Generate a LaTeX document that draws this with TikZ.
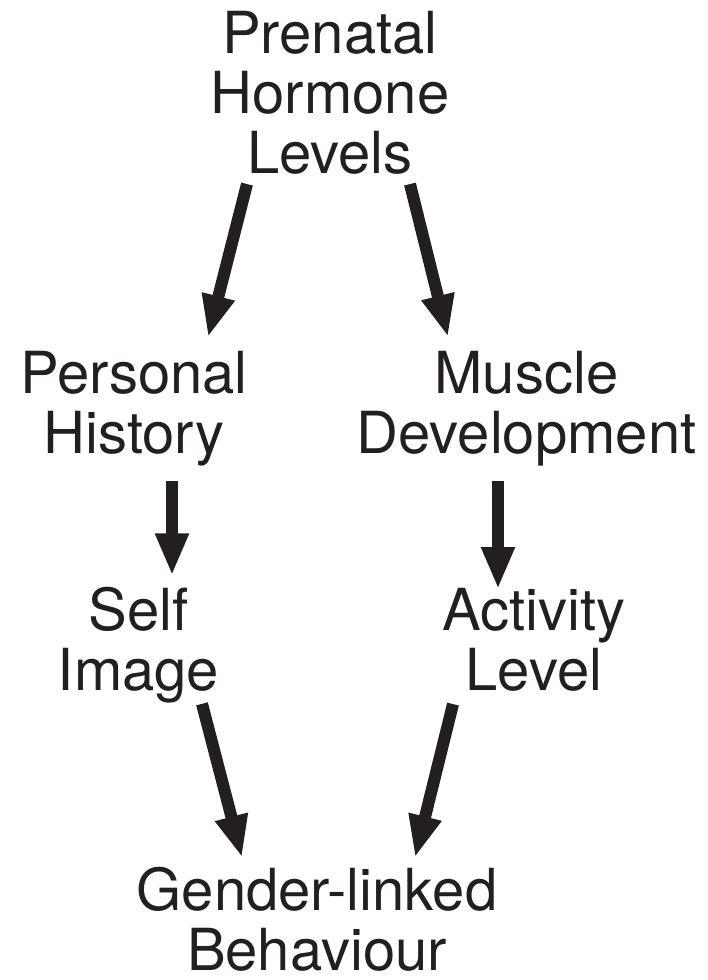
\documentclass[tikz,border=0pt]{standalone}
\usepackage{fontspec}
\setmainfont{TeX Gyre Heros}
\usetikzlibrary{arrows.meta}
\definecolor{ink}{RGB}{35,31,32}

\begin{document}
\begin{tikzpicture} [x=1pt, y=-1pt, stage/.style={align=center, inner sep=0pt, anchor=base, text=ink, font=\fontsize{58}{60}\selectfont}, link/.style={draw=ink, line width=12pt, -{Triangle[width=31pt, length=42pt]}}]
	\useasboundingbox (0,0) rectangle (707,980);

	\node [stage] (hormone) at (330,173) {Prenatal\\Hormone\\Levels};
	\node [stage] (history) at (134,453) {Personal\\History};
	\node [stage] (muscle) at (526.5,453) {Muscle\\Development};
	\node [stage] (self) at (138.5,690) {Self\\Image};
	\node [stage] (activity) at (534,690) {Activity\\Level};
	\node [stage] (gender) at (317,970) {Gender-linked\\Behaviour};

	% draw edges
	\draw [link] ([shift={(-83pt,-10pt)}]hormone.south) -- ([shift={(74pt,13.4pt)}]history.north);
	\draw [link] ([shift={(80pt,-10pt)}]hormone.south) -- ([shift={(-78.5pt,13.6pt)}]muscle.north);
	\draw [link] ([shift={(38pt,-15pt)}]history.south) -- ([shift={(33.5pt,11pt)}]self.north);
	\draw [link] ([shift={(-28.5pt,-15pt)}]muscle.south) -- ([shift={(-36pt,-1.6pt)}]activity.north);
	\draw [link] ([shift={(63.5pt,-1pt)}]self.south) -- ([shift={(-75pt,9pt)}]gender.north);
	\draw [link] ([shift={(-81pt,-13pt)}]activity.south) -- ([shift={(98pt,9pt)}]gender.north);
\end{tikzpicture}
\end{document}
